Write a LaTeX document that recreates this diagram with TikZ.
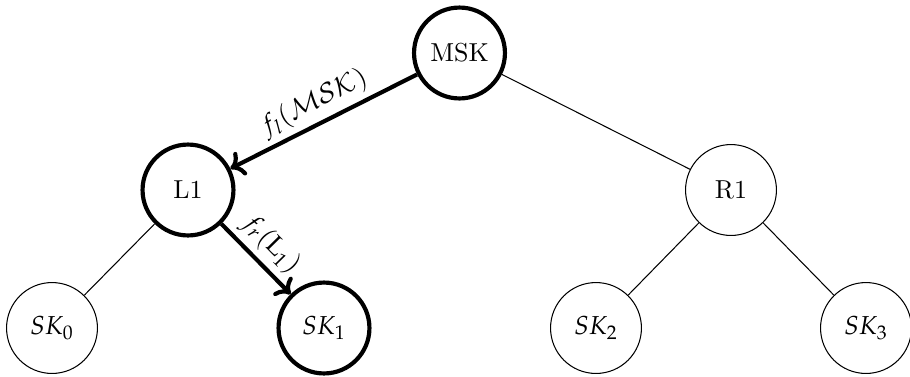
\documentclass[tikz,border=0pt]{standalone}
\usepackage{mathpazo}
\usetikzlibrary{arrows.meta}
\begin{document}
\begin{tikzpicture}[x=0.385pt,y=-0.385pt,
  keynode/.style={circle,draw,thin,minimum size=35pt,inner sep=0pt},
  pathnode/.style={keynode,ultra thick},
  treeedge/.style={thin},
  patharrow/.style={ultra thick,-{To[length=5pt,width=10pt]}},
  arrowlabel/.style={midway,above,sloped,inner sep=2pt}]
\useasboundingbox (0,0) rectangle (910,376);
\node[pathnode] (msk) at (459.5,53) {MSK};
\node[pathnode] (l1) at (188,190) {L1};
\node[keynode] (r1) at (731,190) {R1};
\node[keynode] (sk0) at (52,328) {$SK_0$};
\node[pathnode] (sk1) at (324,328) {$SK_1$};
\node[keynode] (sk2) at (596,328) {$SK_2$};
\node[keynode] (sk3) at (866,328) {$SK_3$};
\draw[patharrow] (msk) -- node[arrowlabel] {$f_l(\mathcal{MSK})$} (l1);
\draw[patharrow] (l1) -- node[arrowlabel] {$f_r(\mathrm{L}_1)$} (sk1);
\draw[treeedge] (msk) -- (r1);
\draw[treeedge] (l1) -- (sk0);
\draw[treeedge] (r1) -- (sk2);
\draw[treeedge] (r1) -- (sk3);
\end{tikzpicture}
\end{document}
